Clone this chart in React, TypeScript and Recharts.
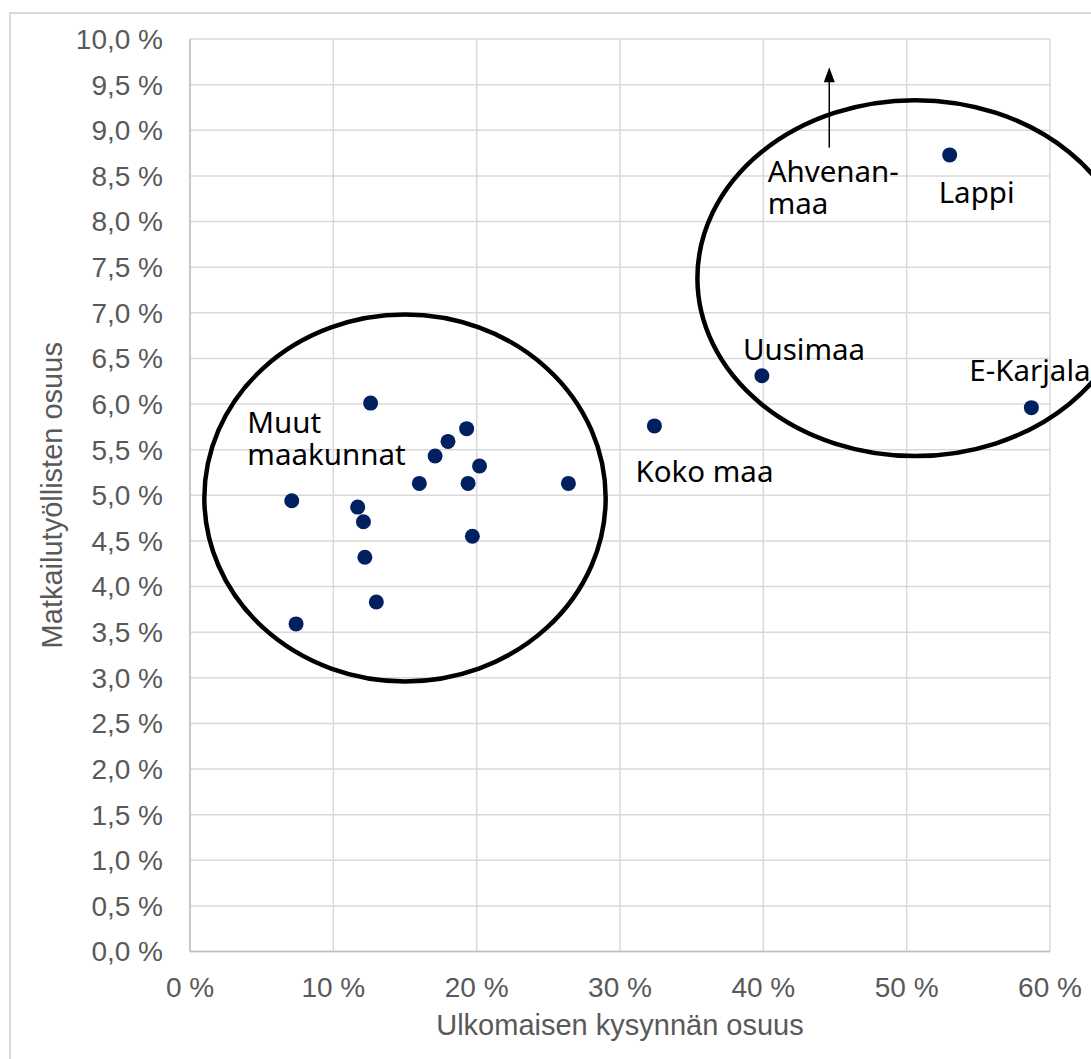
import {
  ScatterChart,
  Scatter,
  XAxis,
  YAxis,
  CartesianGrid,
  ReferenceArea,
  ReferenceDot,
  ReferenceLine,
} from "recharts";

// ulkomaisen kysynnän osuus (%), matkailutyöllisten osuus (%)
const xShare = [12.6, 19.3, 18.0, 17.1, 20.2, 16.0, 19.4, 26.4, 7.1, 11.7, 12.1, 19.7, 12.2, 13.0, 7.4, 32.4, 39.9, 53.0, 58.7];
const yShare = [6.01, 5.73, 5.59, 5.43, 5.32, 5.13, 5.13, 5.13, 4.94, 4.87, 4.71, 4.55, 4.32, 3.83, 3.59, 5.76, 6.31, 8.73, 5.96];
const pointNames = ["", "", "", "", "", "", "", "", "", "", "", "", "", "", "", "Koko maa", "Uusimaa", "Lappi", "E-Karjala"];

const xTicks = [0, 10, 20, 30, 40, 50, 60];
const yTicks = [0, 0.5, 1, 1.5, 2, 2.5, 3, 3.5, 4, 4.5, 5, 5.5, 6, 6.5, 7, 7.5, 8, 8.5, 9, 9.5, 10];

// ryhmien ympyrät (data-koordinaatit)
const ellipseCx = [15.0, 50.6];
const ellipseCy = [4.97, 7.38];
const ellipseRx = [14.0, 15.2];
const ellipseRy = [2.01, 1.95];

// vapaat tekstit
const noteLines = [["Muut", "maakunnat"], ["Ahvenan-", "maa"]];
const noteX = [4.0, 40.3];
const noteY = [5.68, 8.43];

// Ahvenanmaan nuoli (kuvan ulkopuolella)
const arrowX = 44.6;
const arrowFrom = 8.81;
const arrowTo = 9.69;

const labelOffsets: Record<string, [number, number]> = {
  "Koko maa": [-19, 56],
  Uusimaa: [-19, -16],
  Lappi: [-11, 48],
  "E-Karjala": [-62, -27],
};

const data = xShare.map((x, i) => ({ x, y: yShare[i], name: pointNames[i] }));

const AXIS_FONT = "'Liberation Sans', Arial, sans-serif";
const NOTE_FONT = "'Noto Sans', sans-serif";
const NOTE_SIZE = 29.5;

const fmtY = (v: number) => v.toFixed(1).replace(".", ",") + " %";
const fmtX = (v: number) => `${v} %`;

function Dot(props: any) {
  const { cx, cy, payload } = props;
  const off = labelOffsets[payload.name];
  return (
    <g>
      <circle cx={cx} cy={cy} r={7.5} fill="#002060" />
      {off && (
        <text
          x={cx + off[0]}
          y={cy + off[1]}
          fontFamily={NOTE_FONT}
          fontSize={NOTE_SIZE}
          fill="#000"
        >
          {payload.name}
        </text>
      )}
    </g>
  );
}

function Ellipse(props: any) {
  const { x, y, width, height } = props;
  return (
    <ellipse
      cx={x + width / 2}
      cy={y + height / 2}
      rx={width / 2}
      ry={height / 2}
      fill="none"
      stroke="#000"
      strokeWidth={4.5}
    />
  );
}

function Arrow(props: any) {
  const { x1, y1, x2, y2 } = props;
  const top = Math.min(y1, y2);
  const bottom = Math.max(y1, y2);
  return (
    <g>
      <line x1={x1} y1={bottom} x2={x2} y2={top + 12} stroke="#000" strokeWidth={1.5} />
      <polygon points={`${x1},${top} ${x1 - 5.5},${top + 15} ${x1 + 5.5},${top + 15}`} fill="#000" />
    </g>
  );
}

function noteShape(lines: string[]) {
  return (props: any) => (
    <g>
      {lines.map((l, i) => (
        <text
          key={i}
          x={props.cx}
          y={props.cy + i * 32}
          fontFamily={NOTE_FONT}
          fontSize={NOTE_SIZE}
          fill="#000"
        >
          {l}
        </text>
      ))}
    </g>
  );
}

export default function App() {
  return (
    <div
      style={{
        position: "fixed",
        left: 0,
        top: 0,
        width: 1091,
        height: 1059,
        overflow: "hidden",
        background: "#fff",
      }}
    >
      <div
        style={{
          position: "absolute",
          left: 9,
          top: 12,
          width: 1200,
          height: 1200,
          border: "2px solid #d9d9d9",
        }}
      />
      <div style={{ position: "absolute", left: 0, top: 0 }}>
        <ScatterChart
          width={1091}
          height={1059}
          margin={{ top: 39, right: 41, bottom: 0, left: 0 }}
        >
          <CartesianGrid stroke="#d9d9d9" strokeWidth={1.5} />
          <XAxis
            type="number"
            dataKey="x"
            domain={[0, 60]}
            ticks={xTicks}
            tickFormatter={fmtX}
            height={107.5}
            tickSize={0}
            tickMargin={25.5}
            axisLine={{ stroke: "#bfbfbf", strokeWidth: 1.5 }}
            tick={{ fill: "#595959", fontSize: 28, fontFamily: AXIS_FONT }}
            interval={0}
            label={{
              value: "Ulkomaisen kysynnän osuus",
              position: "insideBottom",
              offset: 24,
              style: { fill: "#595959", fontSize: 29, fontFamily: AXIS_FONT },
            }}
          />
          <YAxis
            type="number"
            dataKey="y"
            domain={[0, 10]}
            ticks={yTicks}
            tickFormatter={fmtY}
            width={190}
            tickSize={0}
            tickMargin={27}
            axisLine={{ stroke: "#bfbfbf", strokeWidth: 1.5 }}
            tick={{ fill: "#595959", fontSize: 28, fontFamily: AXIS_FONT }}
            interval={0}
            label={{
              value: "Matkailutyöllisten osuus",
              angle: -90,
              position: "insideLeft",
              offset: 52,
              style: { fill: "#595959", fontSize: 29, fontFamily: AXIS_FONT, textAnchor: "middle" },
            }}
          />
          {ellipseCx.map((cx, i) => (
            <ReferenceArea
              key={`e${i}`}
              x1={cx - ellipseRx[i]}
              x2={cx + ellipseRx[i]}
              y1={ellipseCy[i] - ellipseRy[i]}
              y2={ellipseCy[i] + ellipseRy[i]}
              ifOverflow="visible"
              shape={Ellipse}
            />
          ))}
          <ReferenceLine
            segment={[
              { x: arrowX, y: arrowFrom },
              { x: arrowX, y: arrowTo },
            ]}
            ifOverflow="visible"
            shape={Arrow}
          />
          {noteLines.map((lines, i) => (
            <ReferenceDot
              key={`n${i}`}
              x={noteX[i]}
              y={noteY[i]}
              r={0}
              ifOverflow="visible"
              shape={noteShape(lines)}
            />
          ))}
          <Scatter data={data} shape={Dot} isAnimationActive={false} />
        </ScatterChart>
      </div>
    </div>
  );
}
